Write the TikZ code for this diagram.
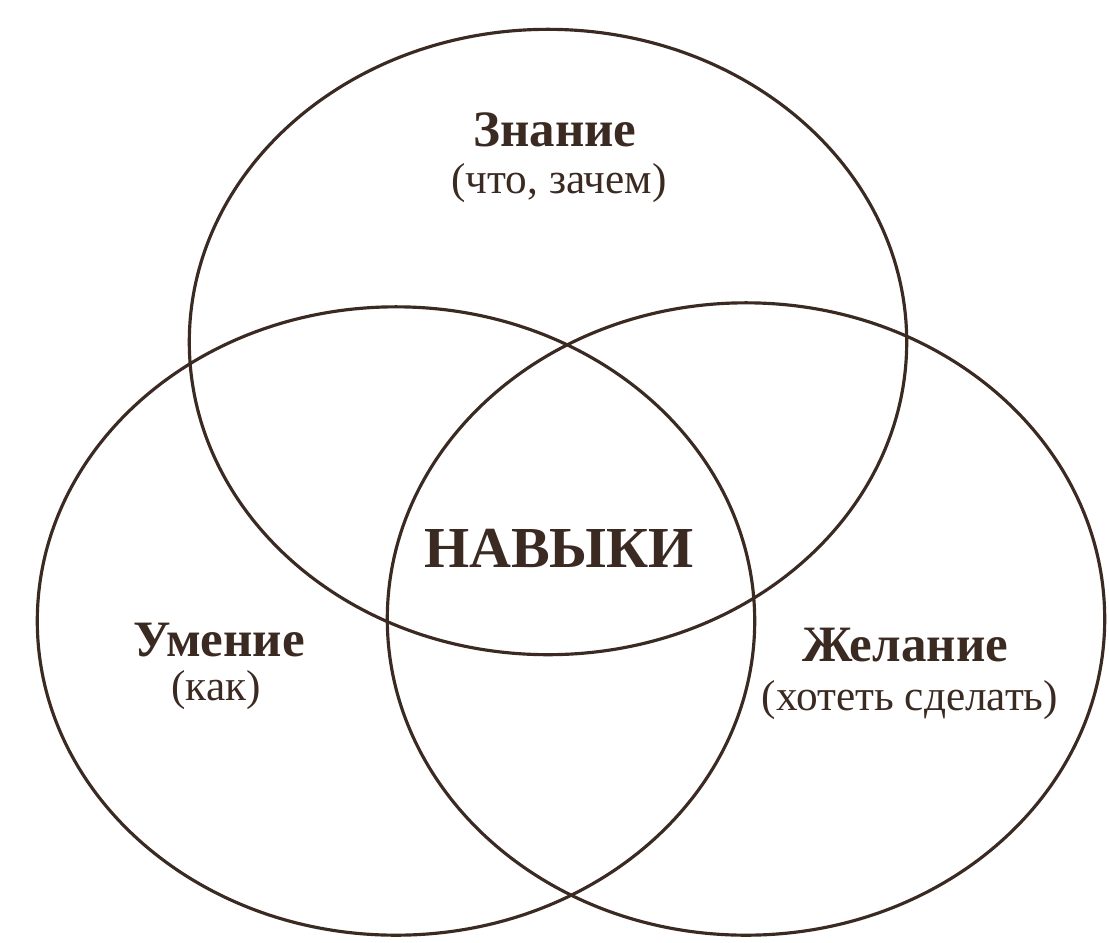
\documentclass[tikz,border=0pt]{standalone}
\usepackage{fontspec}
\setmainfont{Liberation Serif}
\usepackage{xcolor}
\usetikzlibrary{shapes.geometric}
\definecolor{inkbrown}{HTML}{3B2A22}
\tikzset{
    ringline/.style={ellipse, draw=inkbrown, line width=0.9pt, inner sep=0pt},
    titletext/.style={text=inkbrown, font=\fontsize{14.5}{16}\selectfont\bfseries},
    subtext/.style={text=inkbrown, font=\fontsize{12.3}{14}\selectfont},
    centertext/.style={text=inkbrown, font=\fontsize{16.5}{18}\selectfont\bfseries}
}
\begin{document}
\begin{tikzpicture}[x=0.01cm, y=-0.01cm]
    \useasboundingbox (0,0) rectangle (1109,942);
    \node (know) [ringline, minimum width=7.17cm, minimum height=6.25cm] at (548,342) {};
    \node (skill) [ringline, minimum width=7.17cm, minimum height=6.28cm] at (396,621) {};
    \node (wish) [ringline, minimum width=7.17cm, minimum height=6.32cm] at (746,619) {};

    \node (knowtitle) [titletext] at (555,130) {Знание};
    \node (knowsub) [subtext] at (559,183) {(что, зачем)};
    \node (core) [centertext] at (559,548) {НАВЫКИ};
    \node (skilltitle) [titletext] at (219,640) {Умение};
    \node (skillsub) [subtext] at (216,690) {(как)};
    \node (wishtitle) [titletext] at (905,645) {Желание};
    \node (wishsub) [subtext] at (910,700) {(хотеть сделать)};
\end{tikzpicture}
\end{document}
